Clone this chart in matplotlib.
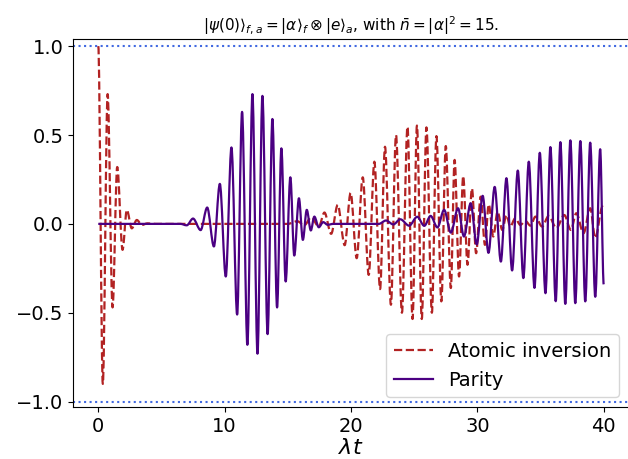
import matplotlib
matplotlib.use("Agg")
import matplotlib.pyplot as plt
from matplotlib.path import Path
from matplotlib.patches import PathPatch
from matplotlib.lines import Line2D

# atomic inversion, turning points
t_inv = [0.0, 0.36, 0.74, 1.13, 1.5, 1.92, 2.26, 2.65, 3.05, 3.45, 3.9, 4.5,
         15.0, 15.75, 16.3, 16.85, 17.45, 17.9, 18.43, 18.95, 19.5, 19.97,
         20.45, 20.93, 21.4, 21.85, 22.3, 22.69, 23.16, 23.56, 24.03, 24.47,
         24.87, 25.22, 25.6, 25.97, 26.4, 26.76, 27.15, 27.5, 27.9, 28.2,
         28.55, 28.88, 29.22, 29.57, 29.9, 30.26, 30.6, 30.9, 31.26, 31.6,
         31.97, 32.3, 32.6, 33.0, 33.4, 33.8, 34.2, 34.6, 35.12, 35.65,
         36.25, 36.88, 37.4, 37.83, 38.4, 38.93, 39.33, 39.9, 40.0]
inversion = [1.0, -0.9, 0.73, -0.47, 0.32, -0.146, 0.079, -0.025, 0.022, -0.006, 0.003, 0.0,
             0.0, 0.015, -0.008, 0.037, -0.015, 0.064, -0.056, 0.107, -0.12, 0.175,
             -0.193, 0.262, -0.287, 0.35, -0.367, 0.434, -0.455, 0.5, -0.5, 0.547,
             -0.535, 0.553, -0.535, 0.543, -0.5, 0.494, -0.436, 0.438, -0.361, 0.36,
             -0.296, 0.27, -0.23, 0.2, -0.165, 0.153, -0.118, 0.11, -0.071, 0.069,
             -0.034, 0.05, -0.015, 0.032, -0.006, 0.017, -0.01, 0.041, -0.015, 0.045,
             -0.024, 0.05, -0.034, 0.06, -0.053, 0.088, -0.08, 0.097, 0.09]

# field parity
t_par = [0.0, 6.5, 7.0, 7.5, 8.1, 8.62, 9.15, 9.62, 10.09, 10.54, 10.99, 11.38,
         11.8, 12.2, 12.6, 12.99, 13.4, 13.78, 14.15, 14.49, 14.83, 15.2,
         15.51, 15.88, 16.19, 16.5, 16.82, 17.1, 17.45, 17.8, 18.15, 18.6,
         22.2, 22.77, 23.35, 23.9, 24.6, 25.24, 25.8, 26.3, 26.84, 27.37,
         27.9, 28.47, 28.94, 29.47, 29.95, 30.42, 30.88, 31.37, 31.86, 32.3,
         32.75, 33.2, 33.64, 34.07, 34.52, 34.94, 35.39, 35.78, 36.2, 36.57,
         36.96, 37.36, 37.75, 38.15, 38.54, 38.93, 39.33, 39.72, 40.0]
parity = [0.0, 0.0, -0.008, 0.03, -0.035, 0.092, -0.127, 0.225, -0.296, 0.43, -0.51, 0.63,
          -0.68, 0.73, -0.73, 0.72, -0.62, 0.59, -0.47, 0.425, -0.324, 0.262,
          -0.178, 0.144, -0.09, 0.079, -0.037, 0.041, -0.019, 0.01, -0.005, 0.0,
          0.0, 0.019, -0.003, 0.026, -0.01, 0.04, -0.011, 0.045, -0.02, 0.079,
          -0.049, 0.088, -0.071, 0.116, -0.115, 0.158, -0.163, 0.208, -0.212, 0.257,
          -0.262, 0.3, -0.305, 0.35, -0.36, 0.40, -0.39, 0.432, -0.435, 0.46,
          -0.45, 0.47, -0.446, 0.466, -0.436, 0.457, -0.41, 0.42, -0.34]

bounds = [1.0, -1.0]


def wave_path(ts, vs):
    # bezier segments between turning points, flat tangent at each one
    verts = [(ts[0], vs[0])]
    codes = [Path.MOVETO]
    for i in range(1, len(ts)):
        dt = ts[i] - ts[i - 1]
        verts += [(ts[i - 1] + dt / 3, vs[i - 1]), (ts[i] - dt / 3, vs[i]), (ts[i], vs[i])]
        codes += [Path.CURVE4] * 3
    return Path(verts, codes)


fig = plt.figure(figsize=(6.28, 4.59), dpi=100)
ax = fig.add_axes([73/628, 1 - 407/459, (629 - 73)/628, (407 - 39)/459])

inv_color = "#b22222"
par_color = "#4b0082"
ax.add_patch(PathPatch(wave_path(t_inv, inversion), fill=False, edgecolor=inv_color,
                       lw=1.6, ls="--", joinstyle="round"))
ax.add_patch(PathPatch(wave_path(t_par, parity), fill=False, edgecolor=par_color,
                       lw=1.6, ls="-", joinstyle="round"))
for b in bounds:
    ax.axhline(b, color="royalblue", ls=":", lw=1.5)

ax.set_xlim(-2, 42)
ax.set_ylim(-1.03, 1.04)
ax.set_yticks([-1.0, -0.5, 0.0, 0.5, 1.0])
ax.set_xticks([0, 10, 20, 30, 40])
ax.tick_params(labelsize=14)
ax.set_xlabel(r"$\lambda t$", fontsize=16, labelpad=2)
ax.set_title(r"$|\psi(0)\rangle_{f,a}=|\alpha\rangle_f\otimes|e\rangle_a$, with $\bar{n}=|\alpha|^2=15$.",
             fontsize=11)

handles = [Line2D([], [], color=inv_color, ls="--", lw=1.6),
           Line2D([], [], color=par_color, ls="-", lw=1.6)]
ax.legend(handles, ["Atomic inversion", "Parity"], loc="lower right", fontsize=14)

fig.savefig("out.png", dpi=100)
